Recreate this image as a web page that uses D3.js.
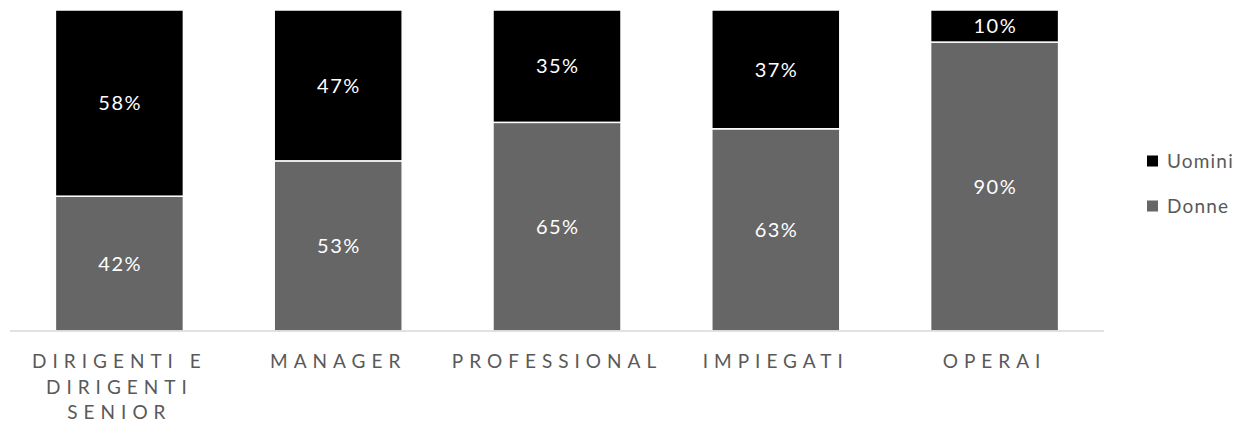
<!DOCTYPE html>
<html>
<head>
<meta charset="utf-8">
<script src="https://cdn.jsdelivr.net/npm/d3@7"></script>
<style>
  html, body { margin: 0; padding: 0; background: #fff; }
  svg { display: block; font-family: Lato, "Noto Sans", sans-serif; }
</style>
</head>
<body>
<svg id="chart" width="1247" height="431"></svg>
<script>
// Workforce share by gender per job level (percent)
const categories = ["DIRIGENTI E DIRIGENTI SENIOR", "MANAGER", "PROFESSIONAL", "IMPIEGATI", "OPERAI"];
const donne  = [42, 53, 65, 63, 90];
const uomini = [58, 47, 35, 37, 10];
const seriesNames  = ["Donne", "Uomini"];
const seriesColors = ["#666666", "#000000"];

const svg = d3.select("#chart");
const plot = { left: 10, right: 1104, top: 10, bottom: 331 };

const x = d3.scaleBand()
  .domain(categories)
  .range([plot.left, plot.right])
  .paddingInner(0.415)
  .paddingOuter(0.2075);

const y = d3.scaleLinear().domain([0, 100]).range([plot.bottom, plot.top]);

const rows = categories.map((c, i) => ({ cat: c, Donne: donne[i], Uomini: uomini[i] }));
const stacked = d3.stack().keys(seriesNames)(rows);

// Stacked bars
const layers = svg.append("g").selectAll("g")
  .data(stacked)
  .join("g")
  .attr("fill", (d, i) => seriesColors[i]);

layers.selectAll("rect")
  .data(d => d)
  .join("rect")
  .attr("x", d => x(d.data.cat))
  .attr("y", d => y(d[1]))
  .attr("width", x.bandwidth())
  .attr("height", d => y(d[0]) - y(d[1]))
  .attr("stroke", "#ffffff")
  .attr("stroke-width", 1.5);

// Value labels centred in each segment
layers.selectAll("text")
  .data(d => d.map(v => ({ v, key: d.key })))
  .join("text")
  .attr("x", d => x(d.v.data.cat) + x.bandwidth() / 2 + 0.75)
  .attr("y", d => (y(d.v[0]) + y(d.v[1])) / 2)
  .attr("dy", "0.36em")
  .attr("text-anchor", "middle")
  .attr("fill", "#ffffff")
  .attr("font-size", 20)
  .attr("letter-spacing", "1.5px")
  .text(d => d.v.data[d.key] + "%");

// Category axis
const xAxis = svg.append("g")
  .attr("transform", `translate(0,${plot.bottom})`)
  .call(d3.axisBottom(x).tickSize(0).tickFormat(""));
xAxis.select(".domain").attr("stroke", "#d9d9d9").attr("stroke-width", 1.5)
  .attr("d", `M${plot.left},0H${plot.right}`);

// Wrapped, letter-spaced category labels
const labelG = svg.append("g")
  .attr("font-size", 19)
  .attr("fill", "#595959")
  .attr("letter-spacing", "6px");

categories.forEach(cat => {
  const cx = x(cat) + x.bandwidth() / 2;
  const t = labelG.append("text")
    .attr("text-anchor", "middle")
    .attr("x", cx)
    .attr("y", 368);
  const words = cat.split(" ");
  let lines = [], line = [];
  const probe = labelG.append("text").attr("visibility", "hidden");
  words.forEach(w => {
    const trial = line.concat(w).join(" ");
    probe.text(trial);
    if (line.length && probe.node().getComputedTextLength() > x.step() - 10) {
      lines.push(line.join(" "));
      line = [w];
    } else line.push(w);
  });
  lines.push(line.join(" "));
  probe.remove();
  lines.forEach((l, i) => {
    t.append("tspan")
      .attr("x", cx)
      .attr("dy", i === 0 ? 0 : 25.5)
      .text(l);
  });
});

// Legend (Uomini on top)
const legend = svg.append("g").attr("font-size", 19).attr("fill", "#595959");
const legendItems = [
  { name: seriesNames[1], color: seriesColors[1], cy: 161 },
  { name: seriesNames[0], color: seriesColors[0], cy: 206 }
];
legendItems.forEach(it => {
  legend.append("rect")
    .attr("x", 1147).attr("y", it.cy - 5.5)
    .attr("width", 11).attr("height", 11)
    .attr("fill", it.color);
  legend.append("text")
    .attr("x", 1167).attr("y", it.cy)
    .attr("dy", "0.36em")
    .attr("letter-spacing", "1.2px")
    .text(it.name);
});
</script>
</body>
</html>
